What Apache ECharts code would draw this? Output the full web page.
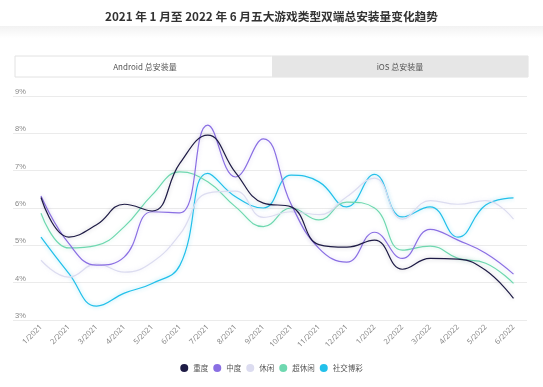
<!DOCTYPE html>
<html><head><meta charset="utf-8">
<script src="https://cdn.jsdelivr.net/npm/echarts@6/dist/echarts.min.js"></script>
<style>html,body{margin:0;padding:0;background:#fff}#c{width:543px;height:387px}</style>
</head><body><div id="c"></div>
<script>
var categories = ['1/2021','2/2021','3/2021','4/2021','5/2021','6/2021','7/2021','8/2021','9/2021','10/2021','11/2021','12/2021','1/2022','2/2022','3/2022','4/2022','5/2022','6/2022'];
var yTicks = [3,4,5,6,7,8,9];
var heavy   = [6.28,5.22,5.55,6.1,5.92,7.2,7.95,6.95,6.13,6.03,5.02,4.95,5.14,4.36,4.65,4.63,4.33,3.58];
var mid     = [6.32,5.05,4.47,4.69,5.9,5.87,8.22,6.83,7.85,6.1,4.92,4.55,5.35,4.65,5.43,5.14,4.79,4.23];
var casual  = [4.6,4.15,4.5,4.28,4.55,5.3,6.4,6.45,5.75,5.9,5.82,6.3,6.8,5.7,6.2,6.1,6.2,5.7];
var hyper   = [5.86,4.93,5.0,5.5,6.35,6.97,6.7,6.03,5.5,6.0,5.68,6.16,6.0,4.87,4.98,4.65,4.52,3.98];
var social  = [5.22,4.25,3.37,3.72,3.98,4.47,6.93,6.3,6.0,6.88,6.7,6.03,6.9,5.76,6.03,5.22,6.08,6.27];
var seriesNames = ['重度','中度','休闲','超休闲','社交博彩'];
var colors = ['#1e1b45','#8a6fe3','#dcdcf0','#6fd8b0','#22c0ea'];
var glow = ['rgba(30,27,69,0.25)','rgba(138,111,227,0.3)','rgba(200,200,235,0.4)','rgba(111,216,176,0.4)','rgba(34,192,234,0.45)'];
var dataSets = [heavy, mid, casual, hyper, social];

var chart = echarts.init(document.getElementById('c'), null, {renderer:'canvas'});
var series = dataSets.map(function(d,i){
  return {name:seriesNames[i], type:'line', data:d, smooth:0.45, showSymbol:false, symbol:'circle',
    xAxisIndex:0, yAxisIndex:0, z: 10-i,
    lineStyle:{width:1.2,color:colors[i],shadowBlur:4,shadowColor:glow[i]},
    itemStyle:{color:colors[i]}};
});
chart.setOption({
  animation:false,
  title:{text:'2021 年 1 月至 2022 年 6 月五大游戏类型双端总安装量变化趋势', left:'center', top:6,
    textStyle:{fontSize:11.7,fontWeight:'bold',color:'#333',fontFamily:'Noto Sans CJK SC'}},
  graphic:[
    {type:'rect', shape:{x:0,y:26,width:543,height:12}, silent:true,
      style:{fill:new echarts.graphic.LinearGradient(0,0,0,1,[{offset:0,color:'#f2f2f2'},{offset:1,color:'#ffffff'}])}},
    {type:'rect', shape:{x:15,y:56,width:513,height:21}, style:{fill:'#fff',stroke:'#e2e2e2',lineWidth:1}},
    {type:'rect', shape:{x:272,y:56,width:256,height:21}, style:{fill:'#e6e6e6'}},
    {type:'text', x:145, y:66.5, style:{text:'Android 总安装量', fill:'#555', fontSize:8, align:'center', verticalAlign:'middle', fontFamily:'Noto Sans CJK SC'}},
    {type:'text', x:400, y:66.5, style:{text:'iOS 总安装量', fill:'#555', fontSize:8, align:'center', verticalAlign:'middle', fontFamily:'Noto Sans CJK SC'}}
  ],
  legend:{data:seriesNames, bottom:10, left:'center', icon:'circle', itemWidth:8, itemHeight:8, itemGap:5,
    textStyle:{fontSize:7.5,color:'#555',fontFamily:'Noto Sans CJK SC'}},
  grid:[
    {left:41, right:29.5, top:96, bottom:67},
    {left:13, right:16, top:96, bottom:67}
  ],
  xAxis:[
    {type:'category', data:categories, boundaryGap:false, gridIndex:0,
      axisLine:{show:false}, axisTick:{show:false},
      axisLabel:{rotate:45, fontSize:7.5, color:'#888', margin:6, interval:0, fontFamily:'Noto Sans'}},
    {type:'value', gridIndex:1, show:false, min:0, max:1}
  ],
  yAxis:[
    {type:'value', gridIndex:0, min:3, max:9, interval:1, show:false, splitLine:{show:false}},
    {type:'value', gridIndex:1, min:3, max:9, interval:1,
      axisLine:{show:false}, axisTick:{show:false},
      splitLine:{lineStyle:{color:'#ebebeb',width:1}},
      axisLabel:{inside:true, margin:2, verticalAlign:'bottom', fontSize:7.5, color:'#888',
        formatter:function(v){return yTicks.indexOf(v)>=0 ? v+'%' : '';}}}
  ],
  series:series
});
</script></body></html>
